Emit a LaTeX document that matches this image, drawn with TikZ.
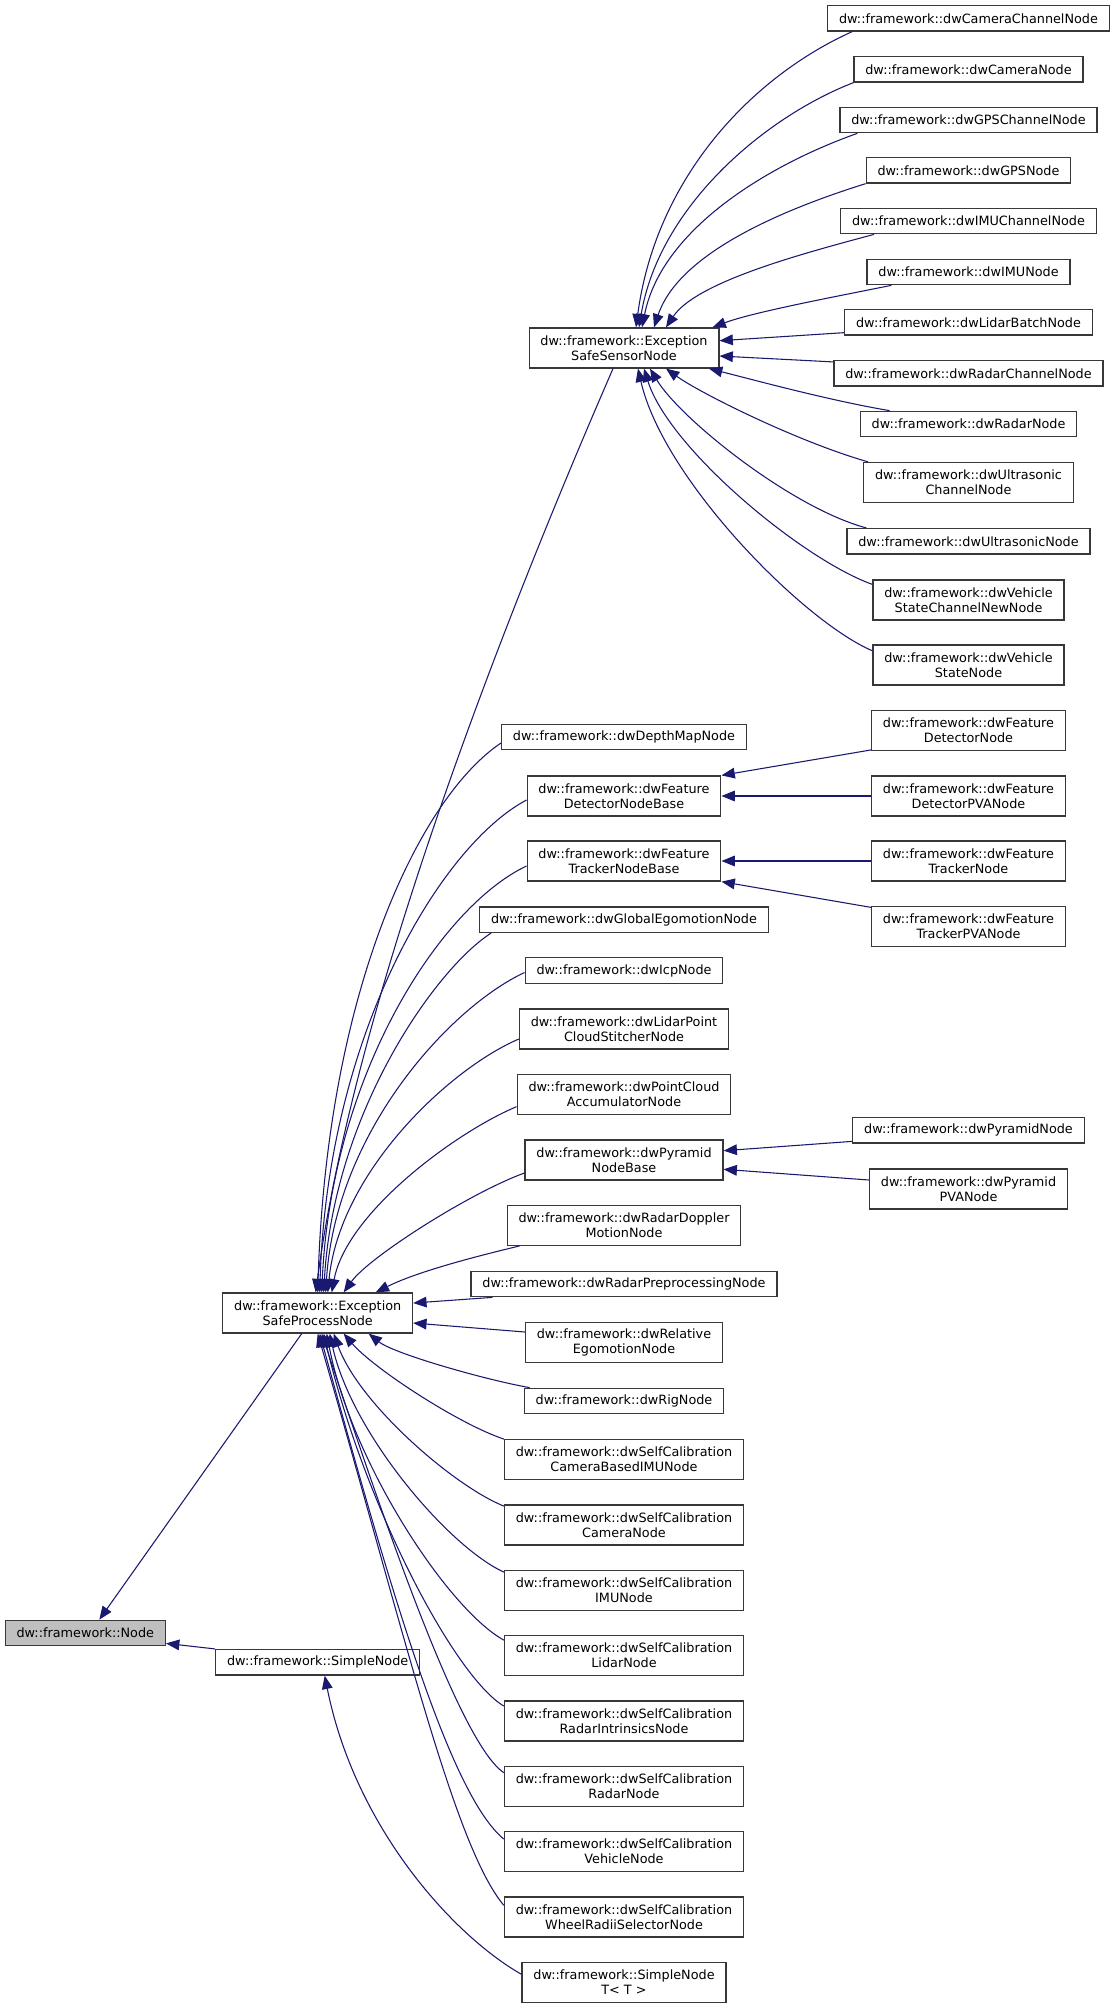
\documentclass[tikz,border=0pt]{standalone}
\usepackage{fontspec}
\setmainfont{DejaVu Sans}
\usetikzlibrary{arrows.meta,calc}

\definecolor{edgeblue}{HTML}{191970}
\definecolor{boxline}{HTML}{383838}
\definecolor{basefill}{HTML}{BFBFBF}

\tikzset{
  cls/.style={draw=boxline, fill=white, line width=0.95pt, inner xsep=8.5pt,
    inner ysep=0pt, minimum height=19.1pt, align=center,
    font=\fontsize{9.6}{11.25}\selectfont},
  cls2/.style={cls, minimum height=30pt},
  inh/.style={edgeblue, line width=0.8pt, ->},
}

\begin{document}
\begin{tikzpicture}[>={Triangle[length=10pt,width=8pt]}, x=0.75pt, y=-0.75pt]

  \fill[white] (0,0) rectangle (1116,2009);
  \useasboundingbox (0,0) rectangle (1116,2009);

  % base classes
  \node[cls, fill=basefill] (base) at (85.3,1633) {dw::framework::Node};
  \node[cls2] (esp) at (317.7,1313) {dw::framework::Exception\\SafeProcessNode};
  \node[cls] (simple) at (317.7,1662.3) {dw::framework::SimpleNode};

  % sensor nodes
  \node[cls2] (sen) at (624,348) {dw::framework::Exception\\SafeSensorNode};
  \node[cls] (camch) at (968.5,18.3) {dw::framework::dwCameraChannelNode};
  \node[cls] (cam) at (968.5,69.3) {dw::framework::dwCameraNode};
  \node[cls] (gpsch) at (968.5,120) {dw::framework::dwGPSChannelNode};
  \node[cls] (gps) at (968.5,170.3) {dw::framework::dwGPSNode};
  \node[cls] (imuch) at (968.5,221) {dw::framework::dwIMUChannelNode};
  \node[cls] (imu) at (968.5,272) {dw::framework::dwIMUNode};
  \node[cls] (lidarb) at (968.5,322.3) {dw::framework::dwLidarBatchNode};
  \node[cls] (radarch) at (968.5,373.3) {dw::framework::dwRadarChannelNode};
  \node[cls] (radar) at (968.5,424) {dw::framework::dwRadarNode};
  \node[cls2] (usch) at (968.5,482.5) {dw::framework::dwUltrasonic\\ChannelNode};
  \node[cls] (us) at (968.5,541.3) {dw::framework::dwUltrasonicNode};
  \node[cls2] (vsch) at (968.5,600) {dw::framework::dwVehicle\\StateChannelNewNode};
  \node[cls2] (vs) at (968.5,665) {dw::framework::dwVehicle\\StateNode};

  % process nodes
  \node[cls] (depth) at (624,737) {dw::framework::dwDepthMapNode};
  \node[cls2] (fdbase) at (624,796) {dw::framework::dwFeature\\DetectorNodeBase};
  \node[cls2] (ftbase) at (624,861) {dw::framework::dwFeature\\TrackerNodeBase};
  \node[cls] (glego) at (624,919.7) {dw::framework::dwGlobalEgomotionNode};
  \node[cls] (icp) at (624,970.5) {dw::framework::dwIcpNode};
  \node[cls2] (lidarpc) at (624,1029) {dw::framework::dwLidarPoint\\CloudStitcherNode};
  \node[cls2] (pcacc) at (624,1094.3) {dw::framework::dwPointCloud\\AccumulatorNode};
  \node[cls2] (pyrbase) at (624,1160) {dw::framework::dwPyramid\\NodeBase};
  \node[cls2] (doppler) at (624,1225.3) {dw::framework::dwRadarDoppler\\MotionNode};
  \node[cls] (radarpre) at (624,1284) {dw::framework::dwRadarPreprocessingNode};
  \node[cls2] (releg) at (624,1342.5) {dw::framework::dwRelative\\EgomotionNode};
  \node[cls] (rig) at (624,1401) {dw::framework::dwRigNode};
  \node[cls2] (sccamimu) at (624,1459.7) {dw::framework::dwSelfCalibration\\CameraBasedIMUNode};
  \node[cls2] (sccam) at (624,1525) {dw::framework::dwSelfCalibration\\CameraNode};
  \node[cls2] (scimu) at (624,1590.7) {dw::framework::dwSelfCalibration\\IMUNode};
  \node[cls2] (sclidar) at (624,1655.7) {dw::framework::dwSelfCalibration\\LidarNode};
  \node[cls2] (scradint) at (624,1721) {dw::framework::dwSelfCalibration\\RadarIntrinsicsNode};
  \node[cls2] (scradar) at (624,1786.3) {dw::framework::dwSelfCalibration\\RadarNode};
  \node[cls2] (scveh) at (624,1851.7) {dw::framework::dwSelfCalibration\\VehicleNode};
  \node[cls2] (scwheel) at (624,1917) {dw::framework::dwSelfCalibration\\WheelRadiiSelectorNode};
  \node[cls2] (simplet) at (624,1982.3) {dw::framework::SimpleNode\\T< T >};

  % leaves of the feature and pyramid bases
  \node[cls2] (fdet) at (968.5,730.7) {dw::framework::dwFeature\\DetectorNode};
  \node[cls2] (fdetpva) at (968.5,796) {dw::framework::dwFeature\\DetectorPVANode};
  \node[cls2] (ftrk) at (968.5,861) {dw::framework::dwFeature\\TrackerNode};
  \node[cls2] (ftrkpva) at (968.5,926.7) {dw::framework::dwFeature\\TrackerPVANode};
  \node[cls] (pyr) at (968.5,1130.3) {dw::framework::dwPyramidNode};
  \node[cls2] (pyrpva) at (968.5,1189) {dw::framework::dwPyramid\\PVANode};

  % Node <- ExceptionSafeProcessNode, SimpleNode
  \draw[inh] ($(esp.south)+(-16,0)$) -- ($(base.north)+(14,0)$);
  \draw[inh] (simple.north west) -- ($(base.south east)+(0,-3)$);
  \draw[inh] ($(simplet.west)+(0,-8)$) .. controls +(-70,-40) and +(30,150) .. ($(simple.south)+(7,0)$);

  % ExceptionSafeSensorNode <- sensor nodes
  \draw[inh] ($(camch.south west)+(25,0)$) .. controls +(-100,45) and +(20,-150) .. ($(sen.north)+(12,0)$);
  \draw[inh] (cam.south west) .. controls +(-90,35) and +(20,-120) .. ($(sen.north)+(15,0)$);
  \draw[inh] ($(gpsch.south west)+(18,0)$) .. controls +(-85,30) and +(20,-100) .. ($(sen.north)+(18,0)$);
  \draw[inh] (gps.south west) .. controls +(-80,25) and +(25,-75) .. ($(sen.north)+(30,0)$);
  \draw[inh] ($(imuch.south west)+(34,0)$) .. controls +(-75,20) and +(30,-45) .. ($(sen.north)+(42,0)$);
  \draw[inh] ($(imu.south west)+(25,0)$) .. controls +(-60,12) and +(40,-15) .. ($(sen.north east)+(-7,0)$);
  \draw[inh] ($(lidarb.south west)+(0,-3)$) -- ($(sen.east)+(0,-7.3)$);
  \draw[inh] ($(radarch.north west)+(0,2)$) -- ($(sen.east)+(0,8)$);
  \draw[inh] ($(radar.north west)+(30,0)$) .. controls +(-60,-10) and +(40,10) .. ($(sen.south east)+(-10.5,0)$);
  \draw[inh] ($(usch.north west)+(5,0)$) .. controls +(-70,-20) and +(35,25) .. ($(sen.south)+(42,0)$);
  \draw[inh] ($(us.north west)+(20,0)$) .. controls +(-75,-20) and +(30,50) .. ($(sen.south)+(26,0)$);
  \draw[inh] ($(vsch.north west)+(0,5)$) .. controls +(-70,-25) and +(25,80) .. ($(sen.south)+(20,0)$);
  \draw[inh] ($(vs.north west)+(0,6.4)$) .. controls +(-70,-30) and +(25,110) .. ($(sen.south)+(14,0)$);

  % feature and pyramid bases
  \draw[inh] ($(fdet.south west)+(0,-1.4)$) -- (fdbase.north east);
  \draw[inh] (fdetpva.west) -- (fdbase.east);
  \draw[inh] (ftrk.west) -- (ftbase.east);
  \draw[inh] ($(ftrkpva.north west)+(0,1.3)$) -- (ftbase.south east);
  \draw[inh] ($(pyr.south west)+(0,-2.3)$) -- ($(pyrbase.east)+(0,-9.3)$);
  \draw[inh] ($(pyrpva.west)+(0,-9)$) -- ($(pyrbase.east)+(0,9.3)$);

  % ExceptionSafeProcessNode <- process nodes (above)
  \draw[inh] ($(sen.south)+(-11,0)$) .. controls +(-100,230) and +(40,-300) .. ($(esp.north)+(-2,0)$);
  \draw[inh] ($(depth.west)+(0,6)$) .. controls +(-82,55) and +(9,-300) .. (esp.north);
  \draw[inh] ($(fdbase.west)+(0,4)$) .. controls +(-85,45) and +(8,-260) .. ($(esp.north)+(2,0)$);
  \draw[inh] ($(ftbase.west)+(0,5)$) .. controls +(-85,40) and +(10,-220) .. ($(esp.north)+(4,0)$);
  \draw[inh] ($(glego.south west)+(12,0)$) .. controls +(-55,35) and +(10,-180) .. ($(esp.north)+(6,0)$);
  \draw[inh] ($(icp.west)+(0,2)$) .. controls +(-75,35) and +(10,-160) .. ($(esp.north)+(8,0)$);
  \draw[inh] ($(lidarpc.west)+(0,10)$) .. controls +(-70,30) and +(12,-120) .. ($(esp.north)+(10,0)$);
  \draw[inh] ($(pcacc.west)+(0,12.4)$) .. controls +(-60,25) and +(15,-80) .. ($(esp.north)+(14,0)$);
  \draw[inh] ($(pyrbase.west)+(0,13)$) .. controls +(-55,20) and +(25,-35) .. ($(esp.north)+(26,0)$);
  \draw[inh] ($(doppler.south west)+(13,0)$) .. controls +(-50,12) and +(40,-20) .. ($(esp.north)+(58,0)$);
  \draw[inh] ($(radarpre.south west)+(22,0)$) -- ($(esp.east)+(0,-10)$);
  \draw[inh] ($(releg.west)+(0,-10.5)$) -- ($(esp.east)+(0,10)$);

  % ExceptionSafeProcessNode <- process nodes (below)
  \draw[inh] ($(rig.north west)+(6,0)$) .. controls +(-45,-8) and +(25,20) .. ($(esp.south)+(51,0)$);
  \draw[inh] (sccamimu.north west) .. controls +(-45,-15) and +(30,35) .. ($(esp.south)+(26,0)$);
  \draw[inh] ($(sccam.north west)+(0,1.7)$) .. controls +(-50,-20) and +(25,70) .. ($(esp.south)+(16,0)$);
  \draw[inh] ($(scimu.north west)+(0,2)$) .. controls +(-55,-25) and +(22,100) .. ($(esp.south)+(12,0)$);
  \draw[inh] ($(sclidar.north west)+(0,5)$) .. controls +(-55,-30) and +(25,130) .. ($(esp.south)+(9,0)$);
  \draw[inh] ($(scradint.north west)+(0,5.7)$) .. controls +(-50,-30) and +(40,170) .. ($(esp.south)+(6,0)$);
  \draw[inh] ($(scradar.north west)+(0,7)$) .. controls +(-45,-30) and +(60,180) .. ($(esp.south)+(4,0)$);
  \draw[inh] ($(scveh.north west)+(0,8)$) .. controls +(-55,-45) and +(69,250) .. ($(esp.south)+(2,0)$);
  \draw[inh] ($(scwheel.north west)+(0,9)$) .. controls +(-50,-60) and +(87,300) .. (esp.south);

\end{tikzpicture}
\end{document}
